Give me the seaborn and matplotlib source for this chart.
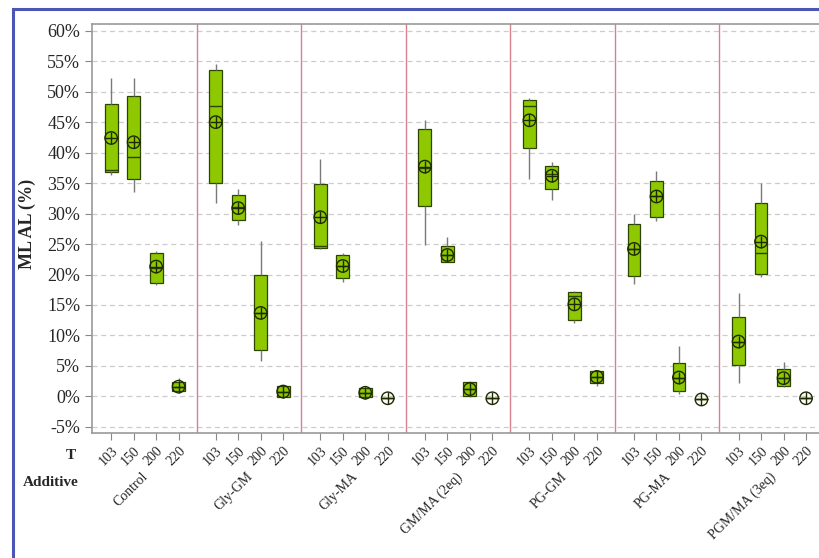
import numpy as np
import pandas as pd
import matplotlib.pyplot as plt
import matplotlib.transforms as mtransforms
import seaborn as sns
from matplotlib.patches import Rectangle
from matplotlib.ticker import PercentFormatter

additives = ['Control', 'Gly-GM', 'Gly-MA', 'GM/MA (2eq)', 'PG-GM', 'PG-MA', 'PGM/MA (3eq)']
temps = ['103', '150', '200', '220']

# values (ML AL, %), one entry per (additive, T)
wmin = [36.4, 33.6, 18.2, 0.7,
        31.7, 28.1, 5.8, -0.3,
        24.2, 18.8, -0.2, -0.3,
        24.8, 22.0, -0.1, -0.3,
        35.6, 32.2, 12.0, 1.7,
        18.4, 28.7, 0.4, -0.5,
        2.2, 19.6, 1.6, -0.3]
q1 = [36.8, 35.6, 18.6, 0.9,
      35.0, 28.9, 7.6, -0.1,
      24.3, 19.5, -0.1, -0.3,
      31.2, 22.0, 0.0, -0.3,
      40.7, 34.0, 12.5, 2.2,
      19.8, 29.5, 0.9, -0.5,
      5.2, 20.1, 1.7, -0.3]
med = [37.2, 39.3, 21.0, 1.6,
       47.6, 31.0, 13.7, 0.8,
       24.6, 21.4, 0.6, -0.3,
       37.5, 23.2, 1.2, -0.3,
       47.6, 36.5, 16.4, 3.2,
       24.2, 32.8, 3.1, -0.5,
       9.0, 23.6, 3.0, -0.3]
q3 = [48.0, 49.3, 23.6, 2.4,
      53.5, 33.1, 19.9, 1.7,
      34.8, 23.2, 1.4, -0.3,
      43.9, 24.7, 2.3, -0.3,
      48.6, 37.8, 17.1, 4.2,
      28.3, 35.4, 5.5, -0.5,
      13.0, 31.8, 4.5, -0.3]
wmax = [52.2, 52.2, 23.9, 3.1,
        54.6, 34.0, 25.5, 1.9,
        38.9, 23.6, 1.7, -0.3,
        45.3, 26.2, 2.5, -0.3,
        48.9, 38.4, 17.3, 4.3,
        30.0, 37.0, 8.2, -0.5,
        16.9, 35.0, 5.6, -0.3]
means = [42.4, 41.7, 21.3, 1.6,
         45.0, 30.9, 13.7, 0.8,
         29.4, 21.4, 0.6, -0.3,
         37.7, 23.2, 1.2, -0.3,
         45.3, 36.2, 15.1, 3.2,
         24.2, 32.8, 3.1, -0.5,
         9.0, 25.4, 3.0, -0.3]

group_w = 4.65
offset = 0.85

rows = []
mean_rows = []
k = 0
for g, add in enumerate(additives):
    for i, t in enumerate(temps):
        pos = g * group_w + offset + i
        for v in (wmin[k], q1[k], med[k], q3[k], wmax[k]):
            rows.append({'pos': pos, 'value': v})
        mean_rows.append({'pos': pos, 'mean': means[k]})
        k += 1
df = pd.DataFrame(rows)
df_mean = pd.DataFrame(mean_rows)

sns.set_style('white')
plt.rcParams['font.family'] = ['Liberation Serif', 'DejaVu Serif']
plt.rcParams['axes.unicode_minus'] = False

fig = plt.figure(figsize=(8.19, 5.58), dpi=100)
ax = fig.add_axes([92 / 819, 125 / 558, 732 / 819, 409 / 558])

# blue outer frame (only left/top visible)
fig.patches.append(Rectangle((12.5 / 819, -0.2), 1.2, 1.2 - 8.5 / 558,
                             transform=fig.transFigure, fill=False,
                             edgecolor='#4a55b5', linewidth=2.2))

sns.boxplot(data=df, x='pos', y='value', native_scale=True, width=0.57,
            whis=np.inf, showcaps=False, color='#8dc800', linecolor='#2c4400',
            linewidth=0.9, saturation=1,
            whiskerprops={'color': '#7a7a7a', 'linewidth': 1.0},
            medianprops={'color': '#2c4400', 'linewidth': 1.0},
            ax=ax, zorder=3)

sns.scatterplot(data=df_mean, x='pos', y='mean', marker='o', s=80,
                facecolor='none', edgecolor='#1e2a00', linewidth=1.0,
                ax=ax, zorder=5)
sns.scatterplot(data=df_mean, x='pos', y='mean', marker='+', s=80,
                color='#1e2a00', linewidth=1.0, ax=ax, zorder=5)

ax.set_xlim(0, len(additives) * group_w)
ax.set_ylim(-6.0, 61.1)

for g in range(1, len(additives)):
    ax.axvline(g * group_w, color='#d9808f', linewidth=1.0, zorder=1)

ax.set_yticks(np.arange(-5, 61, 5))
ax.yaxis.set_major_formatter(PercentFormatter(xmax=100, decimals=0))
ax.grid(axis='y', linestyle=(0, (4, 3)), color='#cccccc', linewidth=0.9)
ax.set_axisbelow(True)

ticks = df_mean['pos'].values
ax.set_xticks(ticks)
ax.set_xticklabels(temps * len(additives), rotation=45, ha='right',
                   rotation_mode='anchor', fontsize=10)
shift = mtransforms.ScaledTranslation(-3 / 100, 0, fig.dpi_scale_trans)
for lab in ax.get_xticklabels():
    lab.set_transform(lab.get_transform() + shift)
ax.tick_params(axis='y', labelsize=13, length=5, color='#888888', direction='out', left=True)
ax.tick_params(axis='x', length=5, color='#888888', direction='out', bottom=True, pad=3)

for s in ax.spines.values():
    s.set_color('#999999')
    s.set_linewidth(1.2)

ax.set_xlabel('')
ax.set_ylabel('ML AL (%)', fontsize=13, fontweight='bold')
ax.yaxis.set_label_coords(-0.076, 0.51)

ax.text(-0.022, -0.038, 'T', transform=ax.transAxes, ha='right', va='top',
        fontsize=11, fontweight='bold')
fig.text(23 / 819, 1 - 482 / 558, 'Additive', ha='left', va='center',
         fontsize=11, fontweight='bold')

for g, add in enumerate(additives):
    xc = (g + 0.5) * group_w - 0.12
    ax.text(xc, -0.09, add, transform=ax.get_xaxis_transform(), rotation=45,
            ha='right', va='top', rotation_mode='anchor', fontsize=10)

fig.savefig('out.png', dpi=100)
